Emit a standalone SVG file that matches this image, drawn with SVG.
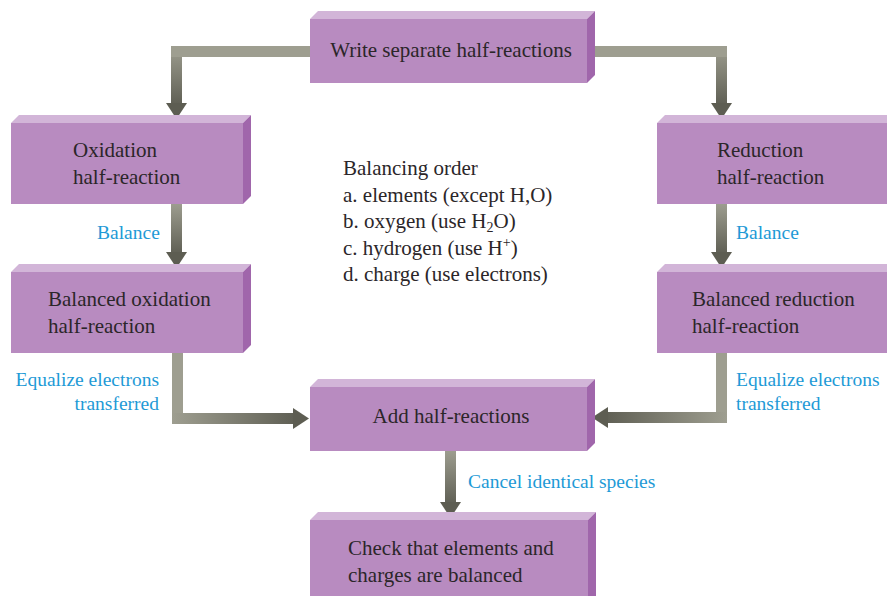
<svg xmlns="http://www.w3.org/2000/svg" width="887" height="596" viewBox="0 0 887 596">
<style>
.front{fill:#b88bc0}
.top{fill:#d2b5d8}
.side{fill:#a066ab}
.t{font-family:"Times New Roman","Liberation Serif","DejaVu Serif",serif;font-size:21px;fill:#2b2629}
.b{font-family:"Times New Roman","Liberation Serif","DejaVu Serif",serif;font-size:19.5px;fill:#1e9ad6}
.bar{fill:#9e9e90}
.head{fill:#5d5d52}
</style>
<defs>
<linearGradient id="gV" x1="0" y1="0" x2="0" y2="1"><stop offset="0" stop-color="#9e9e90"/><stop offset="1" stop-color="#606055"/></linearGradient>
<linearGradient id="gH" x1="0" y1="0" x2="1" y2="0"><stop offset="0" stop-color="#9e9e90"/><stop offset="1" stop-color="#606055"/></linearGradient>
<linearGradient id="gHr" x1="1" y1="0" x2="0" y2="0"><stop offset="0" stop-color="#9e9e90"/><stop offset="1" stop-color="#606055"/></linearGradient>
</defs>
<rect width="887" height="596" fill="#ffffff"/>

<g id="connectors">
  <rect x="171" y="46" width="11" height="58" fill="url(#gV)"/>
  <rect class="bar" x="171" y="46" width="140" height="11"/>
  <polygon class="head" points="166,103 187,103 176.5,119"/>

  <rect x="716" y="46" width="11" height="58" fill="url(#gV)"/>
  <rect class="bar" x="594" y="46" width="133" height="11"/>
  <polygon class="head" points="711,103 732,103 721.5,119"/>

  <rect x="171" y="203" width="11" height="50" fill="url(#gV)"/>
  <polygon class="head" points="166,252 187,252 176.5,268"/>

  <rect x="716" y="203" width="11" height="50" fill="url(#gV)"/>
  <polygon class="head" points="711,252 732,252 721.5,268"/>

  <rect class="bar" x="172" y="352" width="11" height="72"/>
  <rect x="172" y="413" width="122" height="11" fill="url(#gH)"/>
  <polygon class="head" points="293,408 293,429 309,418.5"/>

  <rect class="bar" x="716" y="352" width="11" height="71"/>
  <rect x="607" y="412" width="120" height="11" fill="url(#gHr)"/>
  <polygon class="head" points="608,407 608,428 592,417.5"/>

  <rect x="445" y="450" width="11" height="53" fill="url(#gV)"/>
  <polygon class="head" points="440,502 461,502 450.5,518"/>
</g>

<g id="write">
  <rect class="front" x="310" y="19" width="277" height="64"/>
  <polygon class="top" points="310,19 318,11 595,11 587,19"/>
  <polygon class="side" points="587,19 595,11 595,75 587,83"/>
  <text class="t" x="451" y="57" text-anchor="middle">Write separate half-reactions</text>
</g>

<g id="oxidation">
  <rect class="front" x="11" y="123" width="232" height="81"/>
  <polygon class="top" points="11,123 19,115 251,115 243,123"/>
  <polygon class="side" points="243,123 251,115 251,196 243,204"/>
  <text class="t" x="73" y="157">Oxidation</text>
  <text class="t" x="73" y="184">half-reaction</text>
</g>

<g id="reduction">
  <rect class="front" x="657" y="123" width="232" height="81"/>
  <polygon class="top" points="657,123 665,115 897,115 889,123"/>
  <text class="t" x="717" y="157">Reduction</text>
  <text class="t" x="717" y="184">half-reaction</text>
</g>

<g id="balanced-oxidation">
  <rect class="front" x="11" y="272" width="232" height="81"/>
  <polygon class="top" points="11,272 19,264 251,264 243,272"/>
  <polygon class="side" points="243,272 251,264 251,345 243,353"/>
  <text class="t" x="48" y="306">Balanced oxidation</text>
  <text class="t" x="48" y="333">half-reaction</text>
</g>

<g id="balanced-reduction">
  <rect class="front" x="657" y="272" width="232" height="81"/>
  <polygon class="top" points="657,272 665,264 897,264 889,272"/>
  <text class="t" x="692" y="306">Balanced reduction</text>
  <text class="t" x="692" y="333">half-reaction</text>
</g>

<g id="add">
  <rect class="front" x="310" y="387" width="277" height="64"/>
  <polygon class="top" points="310,387 318,379 595,379 587,387"/>
  <polygon class="side" points="587,387 595,379 595,443 587,451"/>
  <text class="t" x="451" y="423" text-anchor="middle">Add half-reactions</text>
</g>

<g id="check">
  <rect class="front" x="310" y="520" width="278" height="80"/>
  <polygon class="top" points="310,520 318,512 596,512 588,520"/>
  <polygon class="side" points="588,520 596,512 596,600 588,600"/>
  <text class="t" x="348" y="555">Check that elements and</text>
  <text class="t" x="348" y="582">charges are balanced</text>
</g>

<g id="balancing-order">
  <text class="t" x="343" y="175">Balancing order</text>
  <text class="t" x="343" y="201.5">a. elements (except H,O)</text>
  <text class="t" x="343" y="228">b. oxygen (use H<tspan font-size="14" dy="4">2</tspan><tspan dy="-4">O)</tspan></text>
  <text class="t" x="343" y="254.5">c. hydrogen (use H<tspan font-size="14" dy="-8">+</tspan><tspan dy="8">)</tspan></text>
  <text class="t" x="343" y="281">d. charge (use electrons)</text>
</g>

<g id="labels">
  <text class="b" x="97" y="239">Balance</text>
  <text class="b" x="736" y="239">Balance</text>
  <text class="b" x="159" y="386" text-anchor="end">Equalize electrons</text>
  <text class="b" x="159" y="410" text-anchor="end">transferred</text>
  <text class="b" x="736" y="386">Equalize electrons</text>
  <text class="b" x="736" y="410">transferred</text>
  <text class="b" x="468" y="488">Cancel identical species</text>
</g>
</svg>
